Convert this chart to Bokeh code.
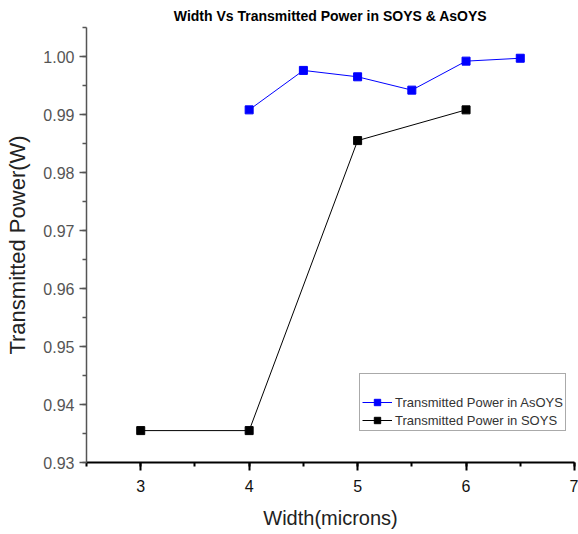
from bokeh.plotting import figure
from bokeh.models import Range1d, SingleIntervalTicker, Legend, LegendItem, NumeralTickFormatter
from bokeh.embed import file_html
from bokeh.resources import INLINE

# Data
width_asoys = [4, 4.5, 5, 5.5, 6, 6.5]
power_asoys = [0.9908, 0.9976, 0.9965, 0.9942, 0.9992, 0.9997]
width_soys = [3, 4, 5, 6]
power_soys = [0.9355, 0.9355, 0.9855, 0.9908]
x_ticks = [3, 4, 5, 6, 7]
title_text = "Width Vs Transmitted Power in SOYS & AsOYS"
label_asoys = "Transmitted Power in AsOYS"
label_soys = "Transmitted Power in SOYS"

p = figure(width=578, height=534, output_backend="svg", toolbar_location=None,
           x_range=Range1d(2.5, 7), y_range=Range1d(0.93, 1.005),
           min_border_left=86, min_border_right=4, min_border_top=27, min_border_bottom=72,
           title=title_text)
p.outline_line_color = None
p.grid.visible = False
p.background_fill_color = "white"

p.title.align = "center"
p.title.text_font = "Liberation Sans"
p.title.text_font_style = "bold"
p.title.text_font_size = "14px"
p.title.text_color = "black"
p.title.standoff = 8
p.title.offset = 0

# X axis
xa = p.xaxis[0]
xa.ticker = SingleIntervalTicker(interval=1, num_minor_ticks=2)
xa.axis_label = "Width(microns)"
xa.axis_label_text_font = "Liberation Sans"
xa.axis_label_text_font_size = "20px"
xa.axis_label_text_font_style = "normal"
xa.axis_label_text_color = "#222222"
xa.axis_label_standoff = 12
xa.major_label_text_font = "Liberation Sans"
xa.major_label_text_font_size = "16px"
xa.major_label_text_color = "#111111"
xa.major_label_standoff = 9
xa.axis_line_color = "black"
xa.axis_line_width = 2
xa.major_tick_line_color = "black"
xa.minor_tick_line_color = "black"
xa.major_tick_line_width = 2
xa.minor_tick_line_width = 2
xa.major_tick_out = 8
xa.major_tick_in = 0
xa.minor_tick_out = 4
xa.minor_tick_in = 0

# Y axis
ya = p.yaxis[0]
ya.ticker = SingleIntervalTicker(interval=0.01, num_minor_ticks=2)
ya.formatter = NumeralTickFormatter(format="0.00")
ya.axis_label = "Transmitted Power(W)"
ya.axis_label_text_font = "Liberation Sans"
ya.axis_label_text_font_size = "22px"
ya.axis_label_text_font_style = "normal"
ya.axis_label_text_color = "#222222"
ya.axis_label_standoff = 10
ya.major_label_text_font = "Liberation Sans"
ya.major_label_text_font_size = "16px"
ya.major_label_text_color = "#555555"
ya.major_label_standoff = 5
ya.axis_line_color = "#555555"
ya.axis_line_width = 1.5
ya.major_tick_line_color = "#555555"
ya.minor_tick_line_color = "#555555"
ya.major_tick_line_width = 1.5
ya.minor_tick_line_width = 1.5
ya.major_tick_out = 7
ya.major_tick_in = 0
ya.minor_tick_out = 4
ya.minor_tick_in = 0

# Series
la = p.line(width_asoys, power_asoys, line_color="#0000FF", line_width=1)
sa = p.scatter(width_asoys, power_asoys, marker="square", size=8,
               fill_color="#0000FF", line_color="#0000FF")
ls = p.line(width_soys, power_soys, line_color="black", line_width=1)
ss = p.scatter(width_soys, power_soys, marker="square", size=8,
               fill_color="black", line_color="black")
blank = p.scatter([], [], alpha=0)

legend = Legend(items=[
    LegendItem(label=" ", renderers=[blank]),
    LegendItem(label=label_asoys, renderers=[la, sa]),
    LegendItem(label=label_soys, renderers=[ls, ss]),
], location=(273, 31))
legend.label_text_font = "Liberation Sans"
legend.label_text_font_size = "13px"
legend.label_text_color = "#333333"
legend.label_height = 16
legend.glyph_height = 16
legend.glyph_width = 30
legend.spacing = 2
legend.padding = 2
legend.margin = 0
legend.label_standoff = 3
legend.border_line_color = "#555555"
legend.border_line_width = 1
legend.background_fill_color = "white"
legend.background_fill_alpha = 1
p.add_layout(legend, "center")

open("out.html", "w").write(file_html(p, INLINE))
